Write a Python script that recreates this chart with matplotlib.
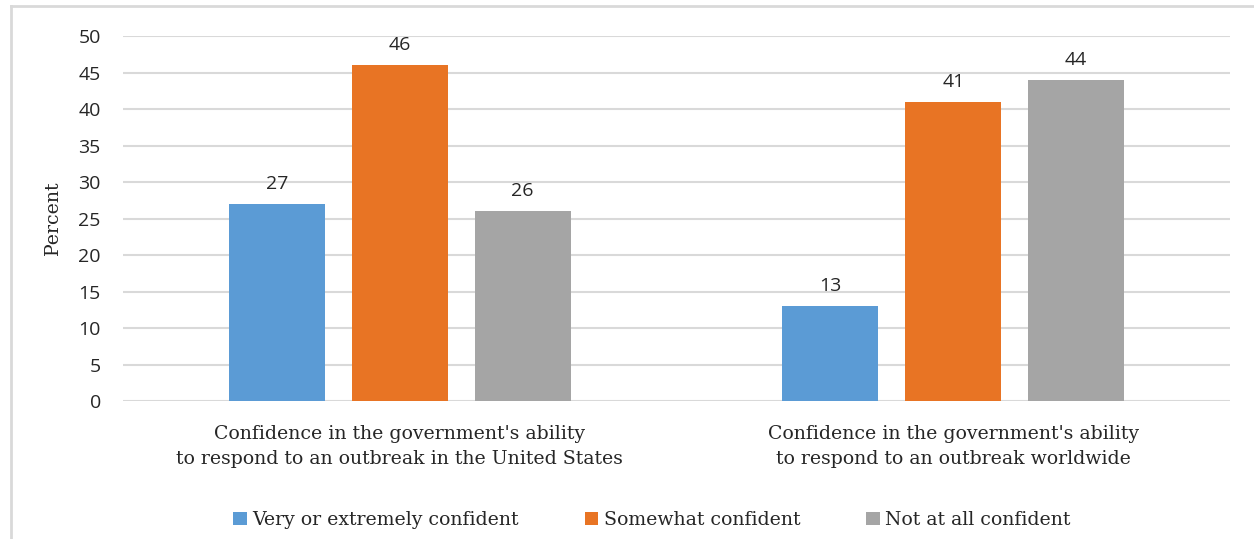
import numpy as np
import matplotlib.pyplot as plt
from matplotlib.lines import Line2D
from matplotlib.patches import Patch

# Data
categories = ["Confidence in the government's ability\nto respond to an outbreak in the United States",
              "Confidence in the government's ability\nto respond to an outbreak worldwide"]
series_names = ['Very or extremely confident', 'Somewhat confident', 'Not at all confident']
very_confident = [27, 13]
somewhat_confident = [46, 41]
not_confident = [26, 44]
y_ticks = [0, 5, 10, 15, 20, 25, 30, 35, 40, 45, 50]

colors = ['#5B9BD5', '#E87424', '#A5A5A5']
sans = 'Open Sans'
serif = 'DejaVu Serif'

fig = plt.figure(figsize=(12.54, 5.39), dpi=100)
ax = fig.add_axes([0.0981, 0.256, 0.8828, 0.677])

x = np.arange(len(categories))
width = 0.1735
step = 0.222
values = [very_confident, somewhat_confident, not_confident]
for i, (vals, col) in enumerate(zip(values, colors)):
    bars = ax.bar(x + (i - 1) * step, vals, width, color=col, zorder=3)
    for b, v in zip(bars, vals):
        ax.annotate(str(v), (b.get_x() + b.get_width() / 2, v), xytext=(0, 8),
                    textcoords='offset points', ha='center', va='bottom',
                    fontsize=14, family=sans, color='#262626')

ax.set_xlim(-0.5, 1.5)
ax.set_ylim(0, 50)
ax.set_yticks(y_ticks)
ax.grid(axis='y', color='#D9D9D9', linewidth=1.5, zorder=0)
for s in ax.spines.values():
    s.set_visible(False)
ax.tick_params(axis='y', length=0, pad=16, labelsize=14, labelcolor='#262626')
ax.tick_params(axis='x', length=0, pad=17)
for lab in ax.get_yticklabels():
    lab.set_family(sans)
ax.set_xticks(x)
ax.set_xticklabels(categories, family=serif, fontsize=13.6, color='#262626', linespacing=1.55)
ax.set_ylabel('Percent', family=serif, fontsize=13.6, color='#262626', labelpad=12)

handles = [Patch(facecolor=c, edgecolor='none') for c in colors]
fig.legend(handles, series_names, loc='center', bbox_to_anchor=(0.52, 0.035), ncol=3,
           frameon=False, prop={'family': serif, 'size': 13.6}, handlelength=0.7,
           handleheight=0.7, handletextpad=0.3, columnspacing=3.5, labelcolor='#262626')

# chart area border (left and top only visible)
fig.add_artist(Line2D([11 / 1254, 11 / 1254], [0, 1 - 6 / 539], transform=fig.transFigure,
                      color='#D9D9D9', linewidth=2))
fig.add_artist(Line2D([11 / 1254, 1], [1 - 6 / 539, 1 - 6 / 539], transform=fig.transFigure,
                      color='#D9D9D9', linewidth=2))

fig.savefig('out.png', dpi=100)
